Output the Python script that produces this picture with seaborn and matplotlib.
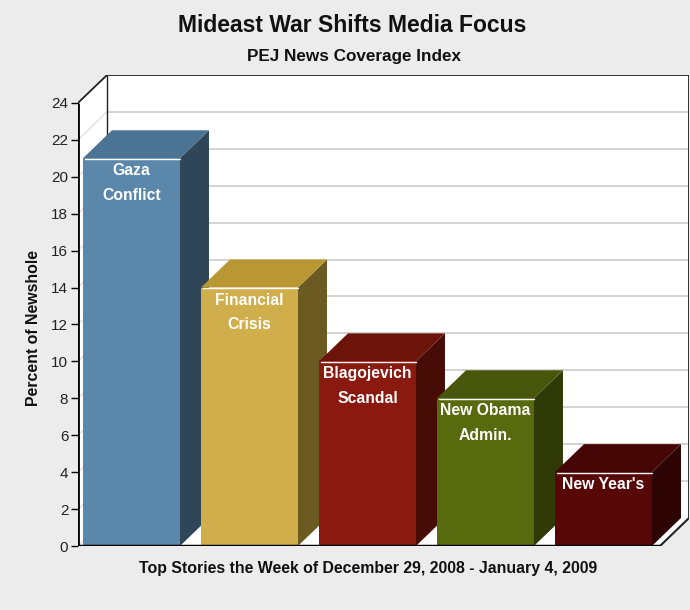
import matplotlib
matplotlib.use("Agg")
import matplotlib.pyplot as plt
from matplotlib.patches import Polygon
import seaborn as sns
import pandas as pd

# ---- data ----
categories = ["Gaza Conflict", "Financial Crisis", "Blagojevich Scandal",
              "New Obama Admin.", "New Year's"]
bar_labels = [["Gaza", "Conflict"], ["Financial", "Crisis"],
              ["Blagojevich", "Scandal"], ["New Obama", "Admin."], ["New Year's"]]
values = [21, 14, 10, 8, 4]
front_colors = ["#5b87aa", "#d1ae4c", "#8a1a0f", "#586a0e", "#580707"]
side_colors = ["#2e4657", "#6b5a22", "#480c06", "#2f3a06", "#2e0303"]
top_colors = ["#4b7393", "#b99834", "#6c130a", "#47560b", "#460505"]
yticks = list(range(0, 25, 2))

title = "Mideast War Shifts Media Focus"
subtitle = "PEJ News Coverage Index"
xlabel = "Top Stories the Week of December 29, 2008 - January 4, 2009"
ylabel = "Percent of Newshole"

sns.set_style("white")
plt.rcParams["font.family"] = ["Liberation Sans", "DejaVu Sans"]

bg = "#ececec"
fig = plt.figure(figsize=(6.9, 6.1), dpi=100, facecolor=bg)
ax = fig.add_axes([78 / 690, 64 / 610, 611 / 690, 471 / 610])
ax.set_facecolor("none")

X0, X1 = -0.453, 4.725
Y1 = 25.51
DX, DY = 0.246, 1.517
XF = X1 - DX  # front right edge
YMAX = 24

ax.set_xlim(X0, X1)
ax.set_ylim(0, Y1)
for s in ax.spines.values():
    s.set_visible(False)

# walls
back = Polygon([(X0 + DX, DY), (X1, DY), (X1, Y1), (X0 + DX, Y1)],
               closed=True, facecolor="white", edgecolor="none", zorder=0)
ax.add_patch(back)
side = Polygon([(X0, 0), (X0 + DX, DY), (X0 + DX, Y1), (X0, YMAX)],
               closed=True, facecolor="white", edgecolor="none", zorder=0)
ax.add_patch(side)
floor = Polygon([(X0, 0), (XF, 0), (X1, DY), (X0 + DX, DY)],
                closed=True, facecolor="white", edgecolor="none", zorder=0)
ax.add_patch(floor)

# grid lines on back wall and side wall
for t in yticks[1:-1]:
    ax.plot([X0 + DX, X1], [t + DY, t + DY], color="#cccccc", lw=1.2, zorder=0.5)
for t in yticks[:-1]:
    ax.plot([X0, X0 + DX], [t, t + DY], color="#dddddd", lw=0.8, zorder=0.5)

# wall outlines
ax.plot([X0, X0 + DX, X1, X1], [YMAX, Y1, Y1, DY], color="#222222", lw=1.3, zorder=0.6)
ax.plot([X0 + DX, X0 + DX], [DY, Y1], color="#222222", lw=1.0, zorder=0.6)
ax.plot([XF, X1], [0, DY], color="#222222", lw=1.5, zorder=0.6)

df = pd.DataFrame({"story": categories, "value": values})
sns.barplot(data=df, x="story", y="value", hue="story", palette=front_colors,
            width=0.822, dodge=False, legend=False, ax=ax, zorder=2,
            saturation=1, edgecolor="none", linewidth=0)

ax.set_xlim(X0, X1)
ax.set_ylim(0, Y1)

patches = [p for p in ax.patches if p.__class__.__name__ == "Rectangle" and p.get_height() > 0]
for i, p in enumerate(patches):
    x = p.get_x()
    w = p.get_width()
    h = p.get_height()
    sidep = Polygon([(x + w, 0), (x + w + DX, DY), (x + w + DX, h + DY), (x + w, h)],
                    closed=True, facecolor=side_colors[i], edgecolor="none", zorder=1.8)
    ax.add_patch(sidep)
    topp = Polygon([(x, h), (x + w, h), (x + w + DX, h + DY), (x + DX, h + DY)],
                   closed=True, facecolor=top_colors[i], edgecolor="none", zorder=1.8)
    ax.add_patch(topp)
    ax.plot([x + 0.02, x + w], [h - 0.05, h - 0.05], color="white", lw=1.0, zorder=3)
    cx = x + w / 2
    for j, line in enumerate(bar_labels[i]):
        ax.annotate(line, xy=(cx, h), xytext=(0, -9 - 17.5 * j),
                    textcoords="offset points", ha="center", va="center",
                    color="white", fontsize=11.3, fontweight="bold", zorder=4)

# axes lines
ax.plot([X0, X0], [0, YMAX], color="black", lw=2, zorder=5, solid_capstyle="butt")
ax.plot([X0, XF], [0, 0], color="black", lw=2.5, zorder=5, solid_capstyle="butt")

ax.set_yticks(yticks)
ax.set_yticklabels([str(t) for t in yticks])
ax.tick_params(axis="y", which="both", left=True, length=5, width=1,
               color="black", labelsize=11, labelcolor="#222222", pad=2)
ax.set_xticks([])
ax.set_xlabel("")
ax.set_ylabel("")

fig.text(352 / 690, 1 - 25 / 610, title, ha="center", va="center",
         fontsize=16.5, fontweight="bold", color="#111111")
fig.text(354 / 690, 1 - 57 / 610, subtitle, ha="center", va="center",
         fontsize=12.3, fontweight="bold", color="#111111")
fig.text(368 / 690, 1 - 569 / 610, xlabel, ha="center", va="center",
         fontsize=11.4, fontweight="bold", color="#111111")
fig.text(34 / 690, 1 - 328 / 610, ylabel, ha="center", va="center",
         rotation=90, fontsize=11.4, fontweight="bold", color="#111111")

fig.savefig("out.png", dpi=100, facecolor=bg)
